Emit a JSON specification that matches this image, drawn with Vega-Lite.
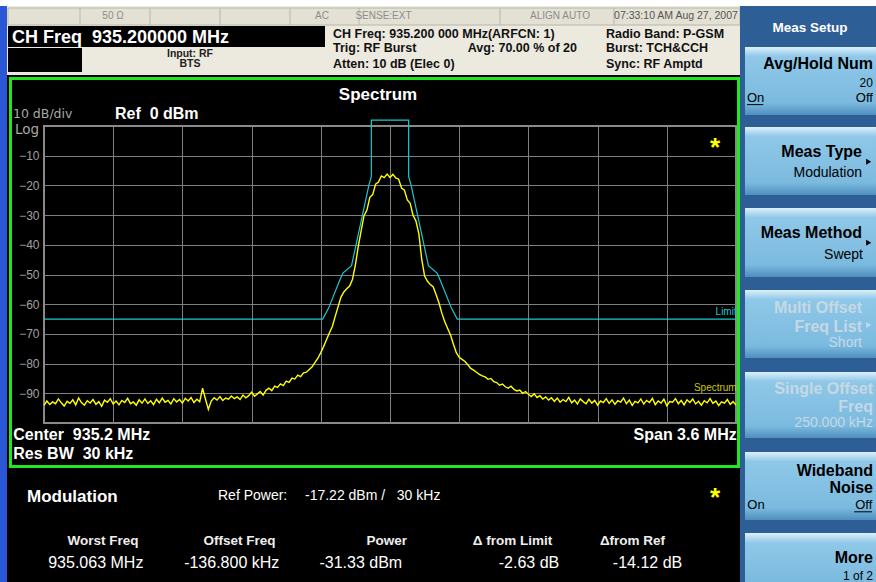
{
  "$schema": "https://vega.github.io/schema/vega-lite/v6.json",
  "width": 692,
  "height": 297,
  "autosize": {"type": "none"},
  "padding": {"left": 44, "top": 126, "right": 140, "bottom": 159},
  "background": "#000000",
  "config": {
    "view": {"fill": "#000000", "stroke": "#8a8a8a", "strokeWidth": 2},
    "font": "Liberation Sans",
    "text": {"font": "Liberation Sans"},
    "axis": {"labelColor": "#a0a0a0", "labelFont": "Liberation Sans", "labelFontSize": 12, "labelOverlap": false, "gridColor": "#7f7f7f", "gridOpacity": 1, "ticks": false, "domain": false}
  },
  "data": {"values": [{}]},
  "datasets": {
    "spectrum": [
      {"f":-1800,"p":-94.1},{"f":-1785,"p":-92.6},{"f":-1770,"p":-93.8},{"f":-1755,"p":-92.9},{"f":-1740,"p":-93.5},{"f":-1725,"p":-91.9},{"f":-1710,"p":-93.2},{"f":-1695,"p":-94.3},{"f":-1680,"p":-92.7},{"f":-1665,"p":-93.4},
      {"f":-1650,"p":-92.2},{"f":-1635,"p":-93.9},{"f":-1620,"p":-91.6},{"f":-1605,"p":-93.1},{"f":-1590,"p":-94.0},{"f":-1575,"p":-92.5},{"f":-1560,"p":-93.3},{"f":-1545,"p":-92.1},{"f":-1530,"p":-93.7},{"f":-1515,"p":-92.8},
      {"f":-1500,"p":-94.4},{"f":-1485,"p":-92.3},{"f":-1470,"p":-93.0},{"f":-1455,"p":-91.8},{"f":-1440,"p":-93.6},{"f":-1425,"p":-92.6},{"f":-1410,"p":-93.9},{"f":-1395,"p":-92.4},{"f":-1380,"p":-93.1},{"f":-1365,"p":-91.7},
      {"f":-1350,"p":-93.5},{"f":-1335,"p":-92.9},{"f":-1320,"p":-94.0},{"f":-1305,"p":-92.2},{"f":-1290,"p":-93.3},{"f":-1275,"p":-91.9},{"f":-1260,"p":-93.4},{"f":-1245,"p":-92.5},{"f":-1230,"p":-93.8},{"f":-1215,"p":-92.0},
      {"f":-1200,"p":-93.2},{"f":-1185,"p":-91.6},{"f":-1170,"p":-93.0},{"f":-1155,"p":-92.4},{"f":-1140,"p":-93.6},{"f":-1125,"p":-91.8},{"f":-1110,"p":-92.9},{"f":-1095,"p":-92.1},{"f":-1080,"p":-93.3},{"f":-1065,"p":-91.7},
      {"f":-1050,"p":-92.6},{"f":-1035,"p":-91.4},{"f":-1020,"p":-93.1},{"f":-1005,"p":-92.0},{"f":-990,"p":-92.8},{"f":-975,"p":-88.3},{"f":-960,"p":-91.9},{"f":-945,"p":-95.4},{"f":-930,"p":-92.6},{"f":-915,"p":-91.5},
      {"f":-900,"p":-92.3},{"f":-885,"p":-91.1},{"f":-870,"p":-92.4},{"f":-855,"p":-91.6},{"f":-840,"p":-92.0},{"f":-825,"p":-90.9},{"f":-810,"p":-91.8},{"f":-795,"p":-91.2},{"f":-780,"p":-92.1},{"f":-765,"p":-90.6},
      {"f":-750,"p":-91.5},{"f":-735,"p":-90.8},{"f":-720,"p":-89.6},{"f":-705,"p":-91.0},{"f":-690,"p":-90.2},{"f":-675,"p":-89.4},{"f":-660,"p":-90.6},{"f":-645,"p":-89.0},{"f":-630,"p":-88.3},{"f":-615,"p":-89.1},
      {"f":-600,"p":-87.6},{"f":-585,"p":-88.0},{"f":-570,"p":-86.8},{"f":-555,"p":-87.4},{"f":-540,"p":-85.9},{"f":-525,"p":-86.3},{"f":-510,"p":-84.9},{"f":-495,"p":-85.2},{"f":-480,"p":-83.9},{"f":-465,"p":-84.4},
      {"f":-450,"p":-83.1},{"f":-435,"p":-82.9},{"f":-420,"p":-82.0},{"f":-405,"p":-81.1},{"f":-390,"p":-79.6},{"f":-375,"p":-78.2},{"f":-360,"p":-76.3},{"f":-345,"p":-74.2},{"f":-330,"p":-71.9},{"f":-315,"p":-69.6},
      {"f":-300,"p":-67.5},{"f":-285,"p":-64.1},{"f":-270,"p":-60.8},{"f":-255,"p":-57.6},{"f":-240,"p":-55.9},{"f":-225,"p":-54.8},{"f":-210,"p":-53.9},{"f":-195,"p":-51.6},{"f":-180,"p":-46.8},{"f":-165,"p":-40.5},
      {"f":-150,"p":-35.2},{"f":-135,"p":-30.2},{"f":-120,"p":-28.3},{"f":-105,"p":-24.0},{"f":-90,"p":-23.1},{"f":-75,"p":-19.6},{"f":-60,"p":-18.9},{"f":-45,"p":-16.8},{"f":-30,"p":-17.4},{"f":-15,"p":-16.2},
      {"f":0,"p":-17.3},{"f":15,"p":-16.3},{"f":30,"p":-17.5},{"f":45,"p":-17.9},{"f":60,"p":-20.9},{"f":75,"p":-21.6},{"f":90,"p":-24.9},{"f":105,"p":-26.0},{"f":120,"p":-30.1},{"f":135,"p":-32.0},
      {"f":150,"p":-36.2},{"f":165,"p":-44.8},{"f":180,"p":-50.5},{"f":195,"p":-52.3},{"f":210,"p":-53.4},{"f":225,"p":-54.2},{"f":240,"p":-56.8},{"f":255,"p":-59.6},{"f":270,"p":-63.1},{"f":285,"p":-65.9},
      {"f":300,"p":-68.2},{"f":315,"p":-70.4},{"f":330,"p":-73.5},{"f":345,"p":-76.3},{"f":360,"p":-77.9},{"f":375,"p":-78.6},{"f":390,"p":-79.3},{"f":405,"p":-80.4},{"f":420,"p":-81.6},{"f":435,"p":-82.2},
      {"f":450,"p":-82.9},{"f":465,"p":-83.6},{"f":480,"p":-84.1},{"f":495,"p":-84.5},{"f":510,"p":-85.3},{"f":525,"p":-85.0},{"f":540,"p":-86.1},{"f":555,"p":-86.4},{"f":570,"p":-87.3},{"f":585,"p":-86.9},
      {"f":600,"p":-87.8},{"f":615,"p":-88.3},{"f":630,"p":-87.6},{"f":645,"p":-88.7},{"f":660,"p":-89.2},{"f":675,"p":-88.9},{"f":690,"p":-90.0},{"f":705,"p":-89.4},{"f":720,"p":-90.3},{"f":735,"p":-91.1},
      {"f":750,"p":-90.2},{"f":765,"p":-91.4},{"f":780,"p":-90.8},{"f":795,"p":-91.9},{"f":810,"p":-91.2},{"f":825,"p":-92.3},{"f":840,"p":-91.5},{"f":855,"p":-92.7},{"f":870,"p":-91.6},{"f":885,"p":-93.0},
      {"f":900,"p":-92.1},{"f":915,"p":-92.8},{"f":930,"p":-91.4},{"f":945,"p":-93.2},{"f":960,"p":-92.3},{"f":975,"p":-93.6},{"f":990,"p":-91.9},{"f":1005,"p":-92.8},{"f":1020,"p":-93.5},{"f":1035,"p":-92.0},
      {"f":1050,"p":-93.3},{"f":1065,"p":-92.4},{"f":1080,"p":-94.0},{"f":1095,"p":-92.6},{"f":1110,"p":-93.1},{"f":1125,"p":-91.8},{"f":1140,"p":-93.4},{"f":1155,"p":-92.2},{"f":1170,"p":-93.7},{"f":1185,"p":-92.5},
      {"f":1200,"p":-93.0},{"f":1215,"p":-91.6},{"f":1230,"p":-93.5},{"f":1245,"p":-92.3},{"f":1260,"p":-94.1},{"f":1275,"p":-92.7},{"f":1290,"p":-93.2},{"f":1305,"p":-91.9},{"f":1320,"p":-93.6},{"f":1335,"p":-92.4},
      {"f":1350,"p":-93.1},{"f":1365,"p":-91.7},{"f":1380,"p":-93.8},{"f":1395,"p":-92.6},{"f":1410,"p":-93.3},{"f":1425,"p":-92.0},{"f":1440,"p":-94.2},{"f":1455,"p":-92.8},{"f":1470,"p":-93.0},{"f":1485,"p":-91.8},
      {"f":1500,"p":-93.5},{"f":1515,"p":-92.4},{"f":1530,"p":-93.9},{"f":1545,"p":-92.2},{"f":1560,"p":-93.1},{"f":1575,"p":-91.9},{"f":1590,"p":-93.6},{"f":1605,"p":-92.7},{"f":1620,"p":-94.0},{"f":1635,"p":-92.5},
      {"f":1650,"p":-93.2},{"f":1665,"p":-91.8},{"f":1680,"p":-93.4},{"f":1695,"p":-92.6},{"f":1710,"p":-94.1},{"f":1725,"p":-92.9},{"f":1740,"p":-93.3},{"f":1755,"p":-92.1},{"f":1770,"p":-93.7},{"f":1785,"p":-92.8},
      {"f":1800,"p":-94.0}
    ],
    "limit": [
      {"f":-1800,"p":-65},{"f":-350,"p":-65},{"f":-320,"p":-61.4},{"f":-262,"p":-52},{"f":-245,"p":-49.5},{"f":-200,"p":-47},{"f":-110,"p":-20},{"f":-97,"p":-17},{"f":-97,"p":2},
      {"f":97,"p":2},{"f":97,"p":-17},{"f":110,"p":-20},{"f":200,"p":-47},{"f":245,"p":-49.5},{"f":262,"p":-52},{"f":320,"p":-61.4},{"f":350,"p":-65},{"f":1800,"p":-65}
    ]
  },
  "layer": [
    {"mark": {"type": "rect", "color": "#ffffff"}, "encoding": {"x": {"datum": -2028.9}, "x2": {"datum": 2528.3}, "y": {"datum": 42.42}, "y2": {"datum": 40.4}}},
    {"mark": {"type": "rect", "color": "#ECE9DF"}, "encoding": {"x": {"datum": -2028.9}, "x2": {"datum": 1820.8}, "y": {"datum": 40.4}, "y2": {"datum": 17.17}}},
    {"mark": {"type": "rect", "color": "#E3E0D4", "stroke": "#B9B6AA", "strokeWidth": 1}, "encoding": {"x": {"datum": -1987.3}, "x2": {"datum": 1820.8}, "y": {"datum": 39.73}, "y2": {"datum": 34.0}}},
    {"mark": {"type": "rule", "color": "#B9B6AA"}, "encoding": {"x": {"datum": -1612.7}, "y": {"datum": 39.73}, "y2": {"datum": 34.0}}},
    {"mark": {"type": "rule", "color": "#B9B6AA"}, "encoding": {"x": {"datum": -1248.6}, "y": {"datum": 39.73}, "y2": {"datum": 34.0}}},
    {"mark": {"type": "rule", "color": "#B9B6AA"}, "encoding": {"x": {"datum": -884.4}, "y": {"datum": 39.73}, "y2": {"datum": 34.0}}},
    {"mark": {"type": "rule", "color": "#B9B6AA"}, "encoding": {"x": {"datum": -520.2}, "y": {"datum": 39.73}, "y2": {"datum": 34.0}}},
    {"mark": {"type": "rule", "color": "#B9B6AA"}, "encoding": {"x": {"datum": -161.3}, "y": {"datum": 39.73}, "y2": {"datum": 34.0}}},
    {"mark": {"type": "rule", "color": "#B9B6AA"}, "encoding": {"x": {"datum": 572.2}, "y": {"datum": 39.73}, "y2": {"datum": 34.0}}},
    {"mark": {"type": "rule", "color": "#B9B6AA"}, "encoding": {"x": {"datum": 1165.3}, "y": {"datum": 39.73}, "y2": {"datum": 34.0}}},
    {"mark": {"type": "rect", "color": "#000000"}, "encoding": {"x": {"datum": -1987.3}, "x2": {"datum": -338.2}, "y": {"datum": 33.67}, "y2": {"datum": 26.6}}},
    {"mark": {"type": "rect", "color": "#000000"}, "encoding": {"x": {"datum": -1987.3}, "x2": {"datum": -1602.3}, "y": {"datum": 26.26}, "y2": {"datum": 18.18}}},
    {"mark": {"type": "rect", "color": "#2A57D6"}, "encoding": {"x": {"datum": -2028.9}, "x2": {"datum": -1992.5}, "y": {"datum": 40.4}, "y2": {"datum": -153.54}}},
    {"mark": {"type": "rect", "color": "#2E5E96"}, "encoding": {"x": {"datum": 1820.8}, "x2": {"datum": 2528.3}, "y": {"datum": 40.4}, "y2": {"datum": -153.54}}},
    {"mark": {"type": "rect", "fill": {"gradient": "linear", "x1": 0, "y1": 0, "x2": 0, "y2": 1, "stops": [{"offset": 0, "color": "#DDF0FA"}, {"offset": 0.14, "color": "#8FC8E8"}, {"offset": 0.82, "color": "#7BBADF"}, {"offset": 1, "color": "#4F8FBE"}]}}, "encoding": {"x": {"datum": 1846.8}, "x2": {"datum": 2528.3}, "y": {"datum": 26.6}, "y2": {"datum": 3.7}}},
    {"mark": {"type": "rect", "fill": {"gradient": "linear", "x1": 0, "y1": 0, "x2": 0, "y2": 1, "stops": [{"offset": 0, "color": "#DDF0FA"}, {"offset": 0.14, "color": "#8FC8E8"}, {"offset": 0.82, "color": "#7BBADF"}, {"offset": 1, "color": "#4F8FBE"}]}}, "encoding": {"x": {"datum": 1846.8}, "x2": {"datum": 2528.3}, "y": {"datum": -0.34}, "y2": {"datum": -23.23}}},
    {"mark": {"type": "rect", "fill": {"gradient": "linear", "x1": 0, "y1": 0, "x2": 0, "y2": 1, "stops": [{"offset": 0, "color": "#DDF0FA"}, {"offset": 0.14, "color": "#8FC8E8"}, {"offset": 0.82, "color": "#7BBADF"}, {"offset": 1, "color": "#4F8FBE"}]}}, "encoding": {"x": {"datum": 1846.8}, "x2": {"datum": 2528.3}, "y": {"datum": -27.61}, "y2": {"datum": -50.84}}},
    {"mark": {"type": "rect", "fill": {"gradient": "linear", "x1": 0, "y1": 0, "x2": 0, "y2": 1, "stops": [{"offset": 0, "color": "#DDF0FA"}, {"offset": 0.14, "color": "#8FC8E8"}, {"offset": 0.82, "color": "#7BBADF"}, {"offset": 1, "color": "#4F8FBE"}]}}, "encoding": {"x": {"datum": 1846.8}, "x2": {"datum": 2528.3}, "y": {"datum": -55.22}, "y2": {"datum": -78.11}}},
    {"mark": {"type": "rect", "fill": {"gradient": "linear", "x1": 0, "y1": 0, "x2": 0, "y2": 1, "stops": [{"offset": 0, "color": "#DDF0FA"}, {"offset": 0.14, "color": "#8FC8E8"}, {"offset": 0.82, "color": "#7BBADF"}, {"offset": 1, "color": "#4F8FBE"}]}}, "encoding": {"x": {"datum": 1846.8}, "x2": {"datum": 2528.3}, "y": {"datum": -82.83}, "y2": {"datum": -105.05}}},
    {"mark": {"type": "rect", "fill": {"gradient": "linear", "x1": 0, "y1": 0, "x2": 0, "y2": 1, "stops": [{"offset": 0, "color": "#DDF0FA"}, {"offset": 0.14, "color": "#8FC8E8"}, {"offset": 0.82, "color": "#7BBADF"}, {"offset": 1, "color": "#4F8FBE"}]}}, "encoding": {"x": {"datum": 1846.8}, "x2": {"datum": 2528.3}, "y": {"datum": -109.76}, "y2": {"datum": -132.66}}},
    {"mark": {"type": "rect", "fill": {"gradient": "linear", "x1": 0, "y1": 0, "x2": 0, "y2": 1, "stops": [{"offset": 0, "color": "#DDF0FA"}, {"offset": 0.2, "color": "#8FC8E8"}, {"offset": 1, "color": "#7BBADF"}]}}, "encoding": {"x": {"datum": 1846.8}, "x2": {"datum": 2528.3}, "y": {"datum": -137.04}, "y2": {"datum": -153.54}}},
    {"mark": {"type": "rect", "fill": "transparent", "stroke": "#1FE81F", "strokeWidth": 3}, "encoding": {"x": {"datum": -1974.3}, "x2": {"datum": 1813.0}, "y": {"datum": 15.99}, "y2": {"datum": -114.65}}},
    {
      "data": {"name": "limit"},
      "mark": {"type": "line", "color": "#1CC8D0", "strokeWidth": 1.2},
      "encoding": {
        "x": {"field": "f", "type": "quantitative", "scale": {"domain": [-1800, 1800], "nice": false, "zero": false}},
        "y": {"field": "p", "type": "quantitative", "scale": {"domain": [-100, 0], "nice": false, "zero": false}},
        "order": {"value": null}
      }
    },
    {
      "data": {"name": "spectrum"},
      "mark": {"type": "line", "color": "#FFFF00", "strokeWidth": 1.4},
      "encoding": {
        "x": {"field": "f", "type": "quantitative", "scale": {"domain": [-1800, 1800], "nice": false, "zero": false},
          "axis": {"title": null, "values": [-1440, -1080, -720, -360, 0, 360, 720, 1080, 1440], "tickCount": 30, "labels": false, "ticks": false, "domain": false, "grid": true, "gridColor": "#7f7f7f", "gridWidth": 1, "gridOpacity": 1}},
        "y": {"field": "p", "type": "quantitative", "scale": {"domain": [-100, 0], "nice": false, "zero": false},
          "axis": {"title": null, "values": [-10, -20, -30, -40, -50, -60, -70, -80, -90], "tickCount": 30, "ticks": false, "domain": false, "grid": true, "gridColor": "#7f7f7f", "gridWidth": 1, "gridOpacity": 1, "labelColor": "#a0a0a0", "labelFontSize": 12, "labelFont": "Liberation Sans", "labelPadding": 5, "labelOverlap": false}}
      }
    },
    {"mark": {"type": "text", "text": "50 Ω", "align": "center", "baseline": "middle", "fontSize": 10, "fill": "#8c8c8c"}, "encoding": {"x": {"datum": -1441}, "y": {"datum": 37}}},
    {"mark": {"type": "text", "text": "AC", "align": "center", "baseline": "middle", "fontSize": 10, "fill": "#8c8c8c"}, "encoding": {"x": {"datum": -353.8}, "y": {"datum": 37}}},
    {"mark": {"type": "text", "text": "SENSE:EXT", "align": "center", "baseline": "middle", "fontSize": 10, "fill": "#8c8c8c"}, "encoding": {"x": {"datum": -34}, "y": {"datum": 37}}},
    {"mark": {"type": "text", "text": "ALIGN AUTO", "align": "center", "baseline": "middle", "fontSize": 10, "fill": "#8c8c8c"}, "encoding": {"x": {"datum": 884.4}, "y": {"datum": 37}}},
    {"mark": {"type": "text", "text": "07:33:10 AM Aug 27, 2007", "align": "center", "baseline": "middle", "fontSize": 10.5, "fill": "#555555"}, "encoding": {"x": {"datum": 1487.8}, "y": {"datum": 37}}},
    {"mark": {"type": "text", "text": "CH Freq\u00a0\u00a0935.200000 MHz", "align": "left", "baseline": "middle", "fontSize": 18, "fontWeight": "bold", "fill": "#ffffff"}, "encoding": {"x": {"datum": -1966.5}, "y": {"datum": 29.5}}},
    {"mark": {"type": "text", "text": "Input: RF", "align": "center", "baseline": "middle", "fontSize": 10.5, "fontWeight": "bold", "fill": "#222222"}, "encoding": {"x": {"datum": -1040.5}, "y": {"datum": 24.3}}},
    {"mark": {"type": "text", "text": "BTS", "align": "center", "baseline": "middle", "fontSize": 10.5, "fontWeight": "bold", "fill": "#222222"}, "encoding": {"x": {"datum": -1040.5}, "y": {"datum": 20.8}}},
    {"mark": {"type": "text", "text": "CH Freq: 935.200 000 MHz(ARFCN: 1)", "align": "left", "baseline": "middle", "fontSize": 12.5, "fontWeight": "bold", "fill": "#111111"}, "encoding": {"x": {"datum": -296.6}, "y": {"datum": 31.14}}},
    {"mark": {"type": "text", "text": "Trig: RF Burst", "align": "left", "baseline": "middle", "fontSize": 12.5, "fontWeight": "bold", "fill": "#111111"}, "encoding": {"x": {"datum": -296.6}, "y": {"datum": 26.26}}},
    {"mark": {"type": "text", "text": "Atten: 10 dB (Elec 0)", "align": "left", "baseline": "middle", "fontSize": 12.5, "fontWeight": "bold", "fill": "#111111"}, "encoding": {"x": {"datum": -296.6}, "y": {"datum": 21.04}}},
    {"mark": {"type": "text", "text": "Avg: 70.00 % of 20", "align": "right", "baseline": "middle", "fontSize": 12.5, "fontWeight": "bold", "fill": "#111111"}, "encoding": {"x": {"datum": 972.8}, "y": {"datum": 26.26}}},
    {"mark": {"type": "text", "text": "Radio Band: P-GSM", "align": "left", "baseline": "middle", "fontSize": 12.5, "fontWeight": "bold", "fill": "#111111"}, "encoding": {"x": {"datum": 1123.7}, "y": {"datum": 31.14}}},
    {"mark": {"type": "text", "text": "Burst: TCH&CCH", "align": "left", "baseline": "middle", "fontSize": 12.5, "fontWeight": "bold", "fill": "#111111"}, "encoding": {"x": {"datum": 1123.7}, "y": {"datum": 26.26}}},
    {"mark": {"type": "text", "text": "Sync: RF Amptd", "align": "left", "baseline": "middle", "fontSize": 12.5, "fontWeight": "bold", "fill": "#111111"}, "encoding": {"x": {"datum": 1123.7}, "y": {"datum": 21.04}}},
    {"mark": {"type": "text", "text": "Meas Setup", "align": "center", "baseline": "middle", "fontSize": 13.5, "fontWeight": "bold", "fill": "#ffffff"}, "encoding": {"x": {"datum": 2184.9}, "y": {"datum": 33.0}}},
    {"mark": {"type": "text", "text": "Avg/Hold Num", "align": "right", "baseline": "middle", "fontSize": 16, "fontWeight": "bold", "fill": "#000000"}, "encoding": {"x": {"datum": 2512.6}, "y": {"datum": 20.88}}},
    {"mark": {"type": "text", "text": "20", "align": "right", "baseline": "middle", "fontSize": 12, "fill": "#000000"}, "encoding": {"x": {"datum": 2512.6}, "y": {"datum": 14.48}}},
    {"mark": {"type": "text", "text": "On", "align": "left", "baseline": "middle", "fontSize": 13, "fill": "#000000"}, "encoding": {"x": {"datum": 1857.2}, "y": {"datum": 9.43}}},
    {"mark": {"type": "rule", "color": "#000000", "strokeWidth": 1}, "encoding": {"x": {"datum": 1857.2}, "x2": {"datum": 1942}, "y": {"datum": 7.2}}},
    {"mark": {"type": "text", "text": "Off", "align": "right", "baseline": "middle", "fontSize": 13, "fill": "#000000"}, "encoding": {"x": {"datum": 2512.6}, "y": {"datum": 9.43}}},
    {"mark": {"type": "text", "text": "Meas Type", "align": "right", "baseline": "middle", "fontSize": 16, "fontWeight": "bold", "fill": "#000000"}, "encoding": {"x": {"datum": 2455.4}, "y": {"datum": -8.59}}},
    {"mark": {"type": "point", "shape": "triangle-right", "filled": true, "size": 35, "color": "#000000", "opacity": 1}, "encoding": {"x": {"datum": 2490.2}, "y": {"datum": -12.02}}},
    {"mark": {"type": "text", "text": "Modulation", "align": "right", "baseline": "middle", "fontSize": 14, "fill": "#000000"}, "encoding": {"x": {"datum": 2455.4}, "y": {"datum": -15.99}}},
    {"mark": {"type": "text", "text": "Meas Method", "align": "right", "baseline": "middle", "fontSize": 16, "fontWeight": "bold", "fill": "#000000"}, "encoding": {"x": {"datum": 2455.4}, "y": {"datum": -36.03}}},
    {"mark": {"type": "point", "shape": "triangle-right", "filled": true, "size": 35, "color": "#000000", "opacity": 1}, "encoding": {"x": {"datum": 2490.2}, "y": {"datum": -39.3}}},
    {"mark": {"type": "text", "text": "Swept", "align": "right", "baseline": "middle", "fontSize": 14, "fill": "#000000"}, "encoding": {"x": {"datum": 2460.6}, "y": {"datum": -43.43}}},
    {"mark": {"type": "text", "text": "Multi Offset", "align": "right", "baseline": "middle", "fontSize": 16, "fontWeight": "bold", "fill": "#C6D8E4"}, "encoding": {"x": {"datum": 2455.4}, "y": {"datum": -61.28}}},
    {"mark": {"type": "text", "text": "Freq List", "align": "right", "baseline": "middle", "fontSize": 16, "fontWeight": "bold", "fill": "#C6D8E4"}, "encoding": {"x": {"datum": 2455.4}, "y": {"datum": -67.68}}},
    {"mark": {"type": "point", "shape": "triangle-right", "filled": true, "size": 35, "color": "#C6D8E4", "opacity": 1}, "encoding": {"x": {"datum": 2490.2}, "y": {"datum": -67.0}}},
    {"mark": {"type": "text", "text": "Short", "align": "right", "baseline": "middle", "fontSize": 14, "fill": "#C6D8E4"}, "encoding": {"x": {"datum": 2455.4}, "y": {"datum": -73.06}}},
    {"mark": {"type": "text", "text": "Single Offset", "align": "right", "baseline": "middle", "fontSize": 16, "fontWeight": "bold", "fill": "#C6D8E4"}, "encoding": {"x": {"datum": 2512.6}, "y": {"datum": -88.72}}},
    {"mark": {"type": "text", "text": "Freq", "align": "right", "baseline": "middle", "fontSize": 16, "fontWeight": "bold", "fill": "#C6D8E4"}, "encoding": {"x": {"datum": 2512.6}, "y": {"datum": -94.5}}},
    {"mark": {"type": "text", "text": "250.000 kHz", "align": "right", "baseline": "middle", "fontSize": 14, "fill": "#C6D8E4"}, "encoding": {"x": {"datum": 2512.6}, "y": {"datum": -100.0}}},
    {"mark": {"type": "text", "text": "Wideband", "align": "right", "baseline": "middle", "fontSize": 16, "fontWeight": "bold", "fill": "#000000"}, "encoding": {"x": {"datum": 2512.6}, "y": {"datum": -116.2}}},
    {"mark": {"type": "text", "text": "Noise", "align": "right", "baseline": "middle", "fontSize": 16, "fontWeight": "bold", "fill": "#000000"}, "encoding": {"x": {"datum": 2512.6}, "y": {"datum": -121.9}}},
    {"mark": {"type": "text", "text": "On", "align": "left", "baseline": "middle", "fontSize": 13, "fill": "#000000"}, "encoding": {"x": {"datum": 1858.9}, "y": {"datum": -127.6}}},
    {"mark": {"type": "text", "text": "Off", "align": "right", "baseline": "middle", "fontSize": 13, "fill": "#000000"}, "encoding": {"x": {"datum": 2509.2}, "y": {"datum": -127.6}}},
    {"mark": {"type": "rule", "color": "#000000", "strokeWidth": 1}, "encoding": {"x": {"datum": 2414.8}, "x2": {"datum": 2507.4}, "y": {"datum": -129.9}}},
    {"mark": {"type": "text", "text": "More", "align": "right", "baseline": "middle", "fontSize": 16, "fontWeight": "bold", "fill": "#000000"}, "encoding": {"x": {"datum": 2512.6}, "y": {"datum": -145.45}}},
    {"mark": {"type": "text", "text": "1 of 2", "align": "right", "baseline": "middle", "fontSize": 12, "fill": "#000000"}, "encoding": {"x": {"datum": 2512.6}, "y": {"datum": -151.4}}},
    {"mark": {"type": "text", "text": "Spectrum", "align": "center", "baseline": "middle", "fontSize": 17, "fontWeight": "bold", "fill": "#ffffff"}, "encoding": {"x": {"datum": -62.4}, "y": {"datum": 10.27}}},
    {"mark": {"type": "text", "text": "10 dB/div", "align": "left", "baseline": "middle", "fontSize": 12.5, "font": "DejaVu Sans", "fill": "#a8a8a8"}, "encoding": {"x": {"datum": -1961.3}, "y": {"datum": 4.2}}},
    {"mark": {"type": "text", "text": "Ref\u00a0\u00a00 dBm", "align": "left", "baseline": "middle", "fontSize": 16, "fontWeight": "bold", "fill": "#ffffff"}, "encoding": {"x": {"datum": -1430.6}, "y": {"datum": 4.04}}},
    {"mark": {"type": "text", "text": "Log", "align": "left", "baseline": "middle", "fontSize": 13.5, "font": "DejaVu Sans", "fill": "#a8a8a8"}, "encoding": {"x": {"datum": -1950.9}, "y": {"datum": -1.2}}},
    {"mark": {"type": "text", "text": "*", "align": "center", "baseline": "alphabetic", "fontSize": 26, "fontWeight": "bold", "fill": "#FFFF00"}, "encoding": {"x": {"datum": 1690.7}, "y": {"datum": -10.2}}},
    {"mark": {"type": "text", "text": "Center\u00a0\u00a0935.2 MHz", "align": "left", "baseline": "middle", "fontSize": 16, "fontWeight": "bold", "fill": "#ffffff"}, "encoding": {"x": {"datum": -1959.7}, "y": {"datum": -104.14}}},
    {"mark": {"type": "text", "text": "Res BW\u00a0\u00a030 kHz", "align": "left", "baseline": "middle", "fontSize": 16, "fontWeight": "bold", "fill": "#ffffff"}, "encoding": {"x": {"datum": -1959.7}, "y": {"datum": -110.44}}},
    {"mark": {"type": "text", "text": "Span 3.6 MHz", "align": "right", "baseline": "middle", "fontSize": 16, "fontWeight": "bold", "fill": "#ffffff"}, "encoding": {"x": {"datum": 1803.6}, "y": {"datum": -104.14}}},
    {"mark": {"type": "text", "text": "Limit", "align": "right", "baseline": "middle", "fontSize": 10, "fill": "#1CC8D0"}, "encoding": {"x": {"datum": 1803.6}, "y": {"datum": -62.63}}},
    {"mark": {"type": "text", "text": "Spectrum", "align": "right", "baseline": "middle", "fontSize": 10, "fill": "#C8C800"}, "encoding": {"x": {"datum": 1803.6}, "y": {"datum": -88.22}}},
    {"mark": {"type": "text", "text": "Modulation", "align": "left", "baseline": "middle", "fontSize": 17, "fontWeight": "bold", "fill": "#ffffff"}, "encoding": {"x": {"datum": -1888.4}, "y": {"datum": -124.92}}},
    {"mark": {"type": "text", "text": "Ref Power:", "align": "left", "baseline": "middle", "fontSize": 14, "fill": "#ffffff"}, "encoding": {"x": {"datum": -894.8}, "y": {"datum": -124.58}}},
    {"mark": {"type": "text", "text": "-17.22 dBm /\u00a0\u00a0\u00a030 kHz", "align": "left", "baseline": "middle", "fontSize": 14, "fill": "#ffffff"}, "encoding": {"x": {"datum": -442.2}, "y": {"datum": -124.58}}},
    {"mark": {"type": "text", "text": "*", "align": "center", "baseline": "alphabetic", "fontSize": 26, "fontWeight": "bold", "fill": "#FFFF00"}, "encoding": {"x": {"datum": 1690.7}, "y": {"datum": -128.0}}},
    {"mark": {"type": "text", "text": "Worst Freq", "align": "center", "baseline": "middle", "fontSize": 13.5, "fontWeight": "bold", "fill": "#eeeeee"}, "encoding": {"x": {"datum": -1493.1}, "y": {"datum": -139.6}}},
    {"mark": {"type": "text", "text": "Offset Freq", "align": "center", "baseline": "middle", "fontSize": 13.5, "fontWeight": "bold", "fill": "#eeeeee"}, "encoding": {"x": {"datum": -782.9}, "y": {"datum": -139.6}}},
    {"mark": {"type": "text", "text": "Power", "align": "center", "baseline": "middle", "fontSize": 13.5, "fontWeight": "bold", "fill": "#eeeeee"}, "encoding": {"x": {"datum": -17.2}, "y": {"datum": -139.6}}},
    {"mark": {"type": "text", "text": "Δ from Limit", "align": "center", "baseline": "middle", "fontSize": 13.5, "fontWeight": "bold", "fill": "#eeeeee"}, "encoding": {"x": {"datum": 637.3}, "y": {"datum": -139.6}}},
    {"mark": {"type": "text", "text": "Δfrom Ref", "align": "center", "baseline": "middle", "fontSize": 13.5, "fontWeight": "bold", "fill": "#eeeeee"}, "encoding": {"x": {"datum": 1261.5}, "y": {"datum": -139.6}}},
    {"mark": {"type": "text", "text": "935.063 MHz", "align": "center", "baseline": "middle", "fontSize": 16, "fill": "#ffffff"}, "encoding": {"x": {"datum": -1530.5}, "y": {"datum": -147.14}}},
    {"mark": {"type": "text", "text": "-136.800 kHz", "align": "center", "baseline": "middle", "fontSize": 16, "fill": "#ffffff"}, "encoding": {"x": {"datum": -823.5}, "y": {"datum": -147.14}}},
    {"mark": {"type": "text", "text": "-31.33 dBm", "align": "center", "baseline": "middle", "fontSize": 16, "fill": "#ffffff"}, "encoding": {"x": {"datum": -151.9}, "y": {"datum": -147.14}}},
    {"mark": {"type": "text", "text": "-2.63 dB", "align": "center", "baseline": "middle", "fontSize": 16, "fill": "#ffffff"}, "encoding": {"x": {"datum": 723.1}, "y": {"datum": -147.14}}},
    {"mark": {"type": "text", "text": "-14.12 dB", "align": "center", "baseline": "middle", "fontSize": 16, "fill": "#ffffff"}, "encoding": {"x": {"datum": 1339.6}, "y": {"datum": -147.14}}}
  ]
}
